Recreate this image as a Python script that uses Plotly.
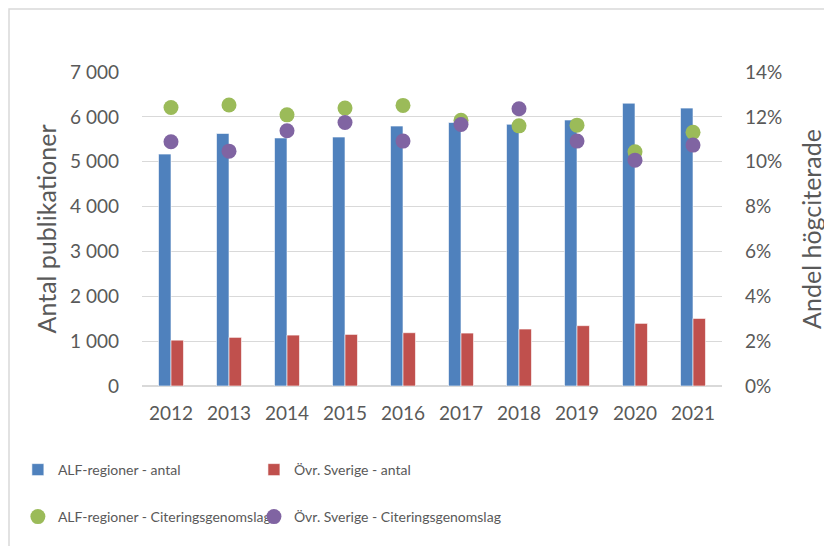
import plotly.graph_objects as go

years = ["2012", "2013", "2014", "2015", "2016", "2017", "2018", "2019", "2020", "2021"]
alf_antal = [5170, 5630, 5530, 5550, 5795, 5875, 5835, 5930, 6305, 6195]
ovr_antal = [1022, 1084, 1135, 1150, 1188, 1180, 1270, 1345, 1396, 1507]
alf_cit = [12.42, 12.53, 12.09, 12.39, 12.51, 11.85, 11.60, 11.63, 10.44, 11.31]
ovr_cit = [10.89, 10.47, 11.38, 11.75, 10.92, 11.66, 12.36, 10.92, 10.07, 10.74]

names = ["ALF-regioner - antal", "Övr. Sverige - antal",
         "ALF-regioner - Citeringsgenomslag", "Övr. Sverige - Citeringsgenomslag"]

FONT = "Lato, 'Open Sans', sans-serif"
TXT = "#595959"
GRID = "#d9d9d9"

fig = go.Figure()
fig.add_trace(go.Bar(x=years, y=alf_antal, name=names[0], legend="legend", showlegend=True,
                     marker=dict(color="#4F81BD", line=dict(color="rgba(255,255,255,0.6)", width=1))))
fig.add_trace(go.Bar(x=years, y=ovr_antal, name=names[1], legend="legend2", showlegend=True,
                     marker=dict(color="#C0504D", line=dict(color="rgba(255,255,255,0.6)", width=1))))
fig.add_trace(go.Scatter(x=years, y=alf_cit, name=names[2], mode="markers", yaxis="y2", legend="legend3",
                         showlegend=True, marker=dict(color="#9BBB59", size=15)))
fig.add_trace(go.Scatter(x=years, y=ovr_cit, name=names[3], mode="markers", yaxis="y2", legend="legend4",
                         showlegend=True, marker=dict(color="#8064A2", size=15)))

leg = dict(orientation="h", xanchor="left", yanchor="top", font=dict(size=14, color=TXT),
           bgcolor="rgba(0,0,0,0)", visible=True)
COL1, COL2, ROW1, ROW2 = -0.214, 0.193, -0.2166, -0.3662

fig.update_layout(
    width=832, height=546,
    showlegend=True,
    margin=dict(l=134, r=118, t=64, b=168, autoexpand=False),
    plot_bgcolor="white", paper_bgcolor="white",
    font=dict(family=FONT, color=TXT, size=19),
    separators=", ",
    barmode="group", bargap=0.57, bargroupgap=0,
    xaxis=dict(range=[-0.5, 9.5], showgrid=False, ticks="", tickfont=dict(size=19), ticklabelstandoff=14,
               automargin=False),
    yaxis=dict(range=[0, 7000], dtick=1000, tickformat=",d", showgrid=True, gridcolor=GRID, gridwidth=1.3,
               zeroline=True, zerolinecolor=GRID, zerolinewidth=2, ticks="", ticklabelstandoff=22, automargin=False,
               title=dict(text="Antal publikationer", font=dict(size=25), standoff=6)),
    yaxis2=dict(range=[0, 14], dtick=2, ticksuffix="%", overlaying="y", side="right", showgrid=False,
                zeroline=False, ticks="", ticklabelstandoff=22, automargin=False,
                title=dict(text="Andel högciterade", font=dict(size=25), standoff=22)),
    legend=dict(leg, x=COL1, y=ROW1),
    legend2=dict(leg, x=COL2, y=ROW1),
    legend3=dict(leg, x=COL1, y=ROW2),
    legend4=dict(leg, x=COL2, y=ROW2),
    shapes=[dict(type="rect", xref="paper", yref="paper", x0=-0.2293, x1=1.4, y0=-0.7, y1=1.2006,
                 line=dict(color=GRID, width=1.5), fillcolor="rgba(0,0,0,0)", layer="below")],
)

fig.write_html("out.html")
